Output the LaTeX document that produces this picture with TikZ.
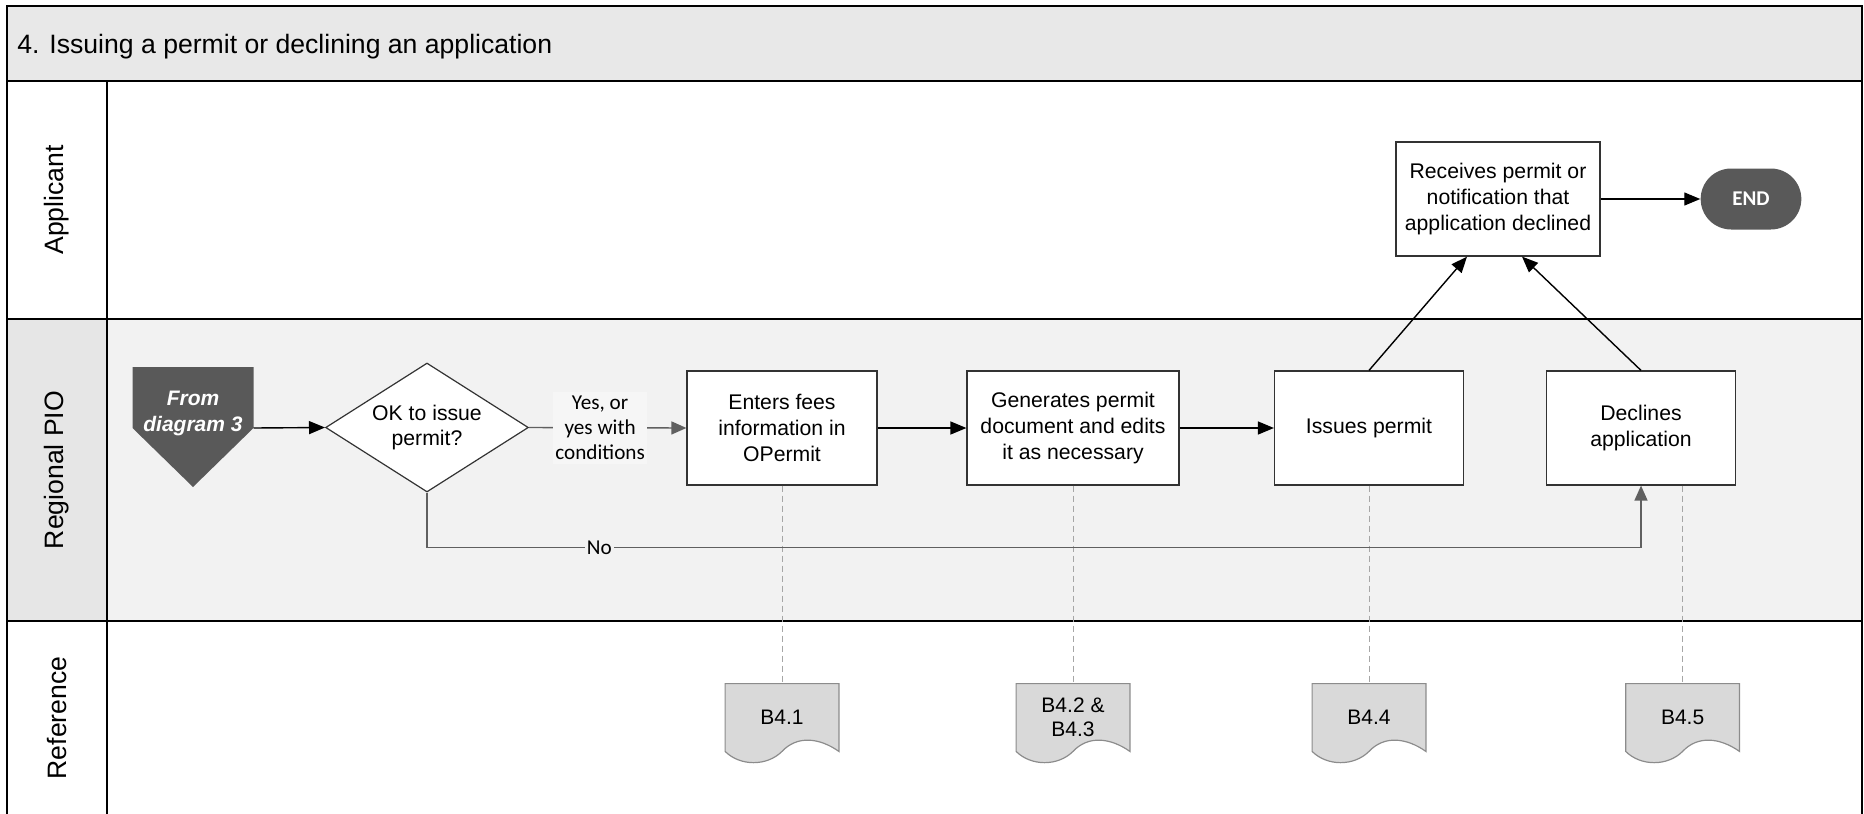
\documentclass[tikz,border=0pt]{standalone}
\usepackage{fontspec}
\setmainfont{Liberation Sans}
\newfontfamily\calfont{Carlito}
\usetikzlibrary{arrows.meta,shapes.geometric,shapes.misc,calc}
\pgfdeclarelayer{bg}
\pgfsetlayers{bg,main}
\definecolor{hdr}{HTML}{E8E8E8}
\definecolor{lanefill}{HTML}{F2F2F2}
\definecolor{cellfill}{HTML}{E6E6E6}
\definecolor{dark}{HTML}{595959}
\definecolor{docfill}{HTML}{D9D9D9}
\definecolor{docline}{HTML}{8C8C8C}
\definecolor{boxline}{HTML}{333333}
\definecolor{gline}{HTML}{606060}
\definecolor{dashc}{HTML}{A6A6A6}
\definecolor{lblfill}{HTML}{F6F6F6}
\begin{document}
\begin{tikzpicture}[x=0.5pt,y=-0.5pt,
  frame/.style={line width=1pt, draw=black},
  lanelbl/.style={rotate=90, font=\fontsize{13.3}{16}\selectfont},
  box/.style={draw=boxline, fill=white, line width=0.6pt, align=center, inner sep=0pt, minimum height=57pt, font=\fontsize{10.6}{12.8}\selectfont},
  decision/.style={diamond, aspect=1.57, draw=boxline, fill=white, line width=0.6pt, align=center, inner sep=0pt, minimum width=101.4pt, minimum height=64.5pt, font=\fontsize{10.6}{12.8}\selectfont},
  terminal/.style={rounded rectangle, fill=dark, text=white, minimum width=57pt, minimum height=30.5pt, font=\calfont\bfseries\fontsize{10.5}{12}\selectfont},
  docnode/.style={minimum width=56.5pt, minimum height=33.5pt, inner sep=0pt, align=center, font=\fontsize{10.5}{12}\selectfont},
  docshape/.style={fill=docfill, draw=docline, line width=0.6pt},
  flow/.style={draw=black, line width=0.7pt, -{Triangle[length=8pt,width=6.5pt]}},
  gflow/.style={color=gline, line width=0.7pt, -{Triangle[length=7.5pt,width=6.5pt]}},
  refline/.style={draw=dashc, line width=0.5pt, dash pattern=on 3pt off 2pt},
  glabel/.style={font=\calfont\fontsize{10.6}{12.5}\selectfont, align=center, text=black, inner xsep=1pt, inner ysep=2pt}
]
\useasboundingbox (0,0) rectangle (1864,814);
\begin{pgfonlayer}{bg}
\fill[hdr] (7,6) rectangle (1862,81);
\fill[cellfill] (7,318.6) rectangle (107,620.5);
\fill[lanefill] (107,318.6) rectangle (1862,620.5);
\end{pgfonlayer}
\draw[frame] (7,814) -- (7,6) -- (1862,6) -- (1862,814);
\draw[frame] (7,81) -- (1862,81);
\draw[frame] (7,318.6) -- (1862,318.6);
\draw[frame] (7,620.5) -- (1862,620.5);
\draw[frame] (107,81) -- (107,814);

\node[anchor=base west, font=\fontsize{13.3}{16}\selectfont, inner sep=0pt] (title) at (17,53) {4. Issuing a permit or declining an application};
\node[lanelbl] (lA) at (57,200) {Applicant};
\node[lanelbl] (lP) at (57,470) {Regional PIO};
\node[lanelbl] (lR) at (57,718) {Reference};

\node[text=white, font=\bfseries\itshape\fontsize{10.5}{13}\selectfont, align=center, inner sep=0pt] (from) at (193,413) {From\\diagram 3};
\coordinate (fromR) at ($(from.center)+(60.5,15)$);
\node[decision] (dia) at (427,427.5) {OK to issue\\permit?};
\node[box, minimum width=95pt] (b1) at (782,428) {Enters fees\\information in\\OPermit};
\node[box, minimum width=106pt] (b2) at (1073,428) {Generates permit\\document and edits\\it as necessary};
\node[box, minimum width=94.5pt] (b3) at (1369,428) {Issues permit};
\node[box, minimum width=94.5pt] (b4) at (1641,428) {Declines\\application};
\node[box, minimum width=102pt] (rcv) at (1498,199) {Receives permit or\\notification that\\application declined};
\node[terminal] (end) at (1751,199) {END};

\node[docnode] (d1) at (782,717.5) {B4.1};
\node[docnode] (d2) at (1073,717.5) {B4.2 \&\\B4.3};
\node[docnode] (d3) at (1369,717.5) {B4.4};
\node[docnode] (d4) at (1682.6,717.5) {B4.5};

\begin{pgfonlayer}{bg}
\foreach \d in {d1,d2,d3,d4}
  \draw[docshape] (\d.north west) -- (\d.north east) -- (\d.south east) .. controls +(-20,-14) and +(15,-16) .. (\d.south) .. controls +(-15,15) and +(15,15) .. (\d.south west) -- cycle;
\fill[dark] ($(from.center)+(-60.5,-46)$) -- ($(from.center)+(60.5,-46)$) -- (fromR) -- ($(from.center)+(0,74)$) -- ($(from.center)+(-60.5,15)$) -- cycle;
\end{pgfonlayer}

\draw[refline] (b1.south) -- (d1.north);
\draw[refline] (b2.south) -- (d2.north);
\draw[refline] (b3.south) -- (d3.north);
\draw[refline] (b4.south -| d4.north) -- (d4.north);

\draw[flow] (fromR) -- (dia.west);
\draw[gflow] (dia.east) -- node[glabel, fill=lblfill, pos=0.452] (yes) {Yes, or\\yes with\\conditions} (b1.west);
\draw[flow] (b1) -- (b2);
\draw[flow] (b2) -- (b3);
\draw[flow] (b3.north) -- ($(rcv.south)+(-31,0)$);
\draw[flow] (b4.north) -- ($(rcv.south)+(24,0)$);
\draw[flow] (rcv) -- (end);
\draw[gflow] (dia.south) |- node[glabel, fill=lanefill, pos=0.571, inner ysep=0pt] (no) {No} ($(b4.south)+(0,62)$) -- (b4.south);
\end{tikzpicture}
\end{document}
